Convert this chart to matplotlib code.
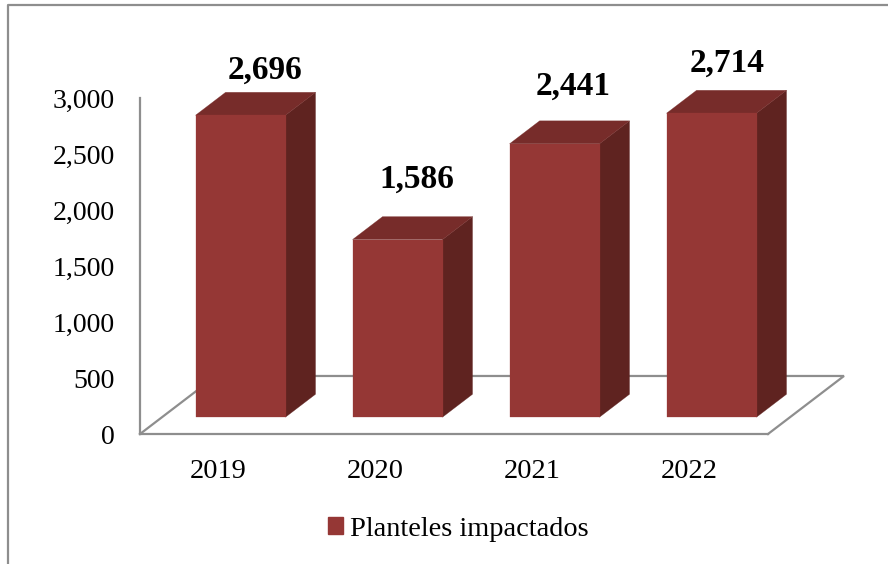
import matplotlib
matplotlib.use('Agg')
import matplotlib.pyplot as plt
from matplotlib.lines import Line2D
from matplotlib.patches import Patch, Polygon

years = ['2019', '2020', '2021', '2022']
planteles = [2696, 1586, 2441, 2714]
yticks = [0, 500, 1000, 1500, 2000, 2500, 3000]
series_name = 'Planteles impactados'

# pixel nudges of the value labels, measured from the top of each bar
label_shift = [(24.5, 45), (19.5, 60), (18.5, 58), (16, 50)]

FRONT = '#953735'
TOP = '#772c2a'
SIDE = '#5f2320'
GREY = '#8e8e8e'
BAR_W = 0.573

# fake 3d: depth 0 is the front of the floor, depth 1 the back
DX = 0.484
DY = 518
NEAR = 0.29
FAR = 0.685


def proj(x, y, d):
    return (x + d * DX, y + d * DY)


plt.rcParams['font.family'] = ['Liberation Serif', 'DejaVu Serif']

fig = plt.figure(figsize=(8.88, 5.64), dpi=100)
ax = fig.add_axes([140 / 888, (564 - 434) / 564, 628 / 888, 336 / 564])
ax.set_xlim(-0.5, 3.5)
ax.set_ylim(0, 3000)
ax.patch.set_visible(False)

for s in ['top', 'right']:
    ax.spines[s].set_visible(False)
for s in ['left', 'bottom']:
    ax.spines[s].set_color(GREY)
    ax.spines[s].set_linewidth(1.6)

# floor
floor = [proj(-0.5, 0, 0), proj(-0.5, 0, 1), proj(3.5, 0, 1), proj(3.5, 0, 0)]
ax.plot([p[0] for p in floor], [p[1] for p in floor], color=GREY, lw=1.6,
        clip_on=False, zorder=1, solid_joinstyle='miter')

for i, v in enumerate(planteles):
    x0 = i - BAR_W / 2
    x1 = i + BAR_W / 2
    side = [proj(x1, 0, NEAR), proj(x1, 0, FAR), proj(x1, v, FAR), proj(x1, v, NEAR)]
    top = [proj(x0, v, NEAR), proj(x0, v, FAR), proj(x1, v, FAR), proj(x1, v, NEAR)]
    front = [proj(x0, 0, NEAR), proj(x1, 0, NEAR), proj(x1, v, NEAR), proj(x0, v, NEAR)]
    for pts, c in [(side, SIDE), (top, TOP), (front, FRONT)]:
        ax.add_patch(Polygon(pts, closed=True, facecolor=c, edgecolor=c, lw=0.2,
                             clip_on=False, zorder=3))
    ax.annotate(format(v, ','), xy=proj(i, v, NEAR), xytext=label_shift[i],
                textcoords='offset pixels', ha='center', va='center',
                fontsize=24, fontweight='bold', color='black', annotation_clip=False)

ax.set_xticks(range(len(years)))
ax.set_xticklabels(years)
ax.set_yticks(yticks)
ax.set_yticklabels([format(t, ',') for t in yticks])
ax.tick_params(axis='x', length=0, pad=18, labelsize=20.5)
ax.tick_params(axis='y', length=0, pad=18, labelsize=20)

handle = Patch(facecolor=FRONT, edgecolor=FRONT, label=series_name)
fig.legend(handles=[handle], loc='center', bbox_to_anchor=(458 / 888, 1 - 529 / 564),
           frameon=False, fontsize=20.4, handlelength=0.53, handleheight=0.53,
           handletextpad=0.25)

# outer frame, only top and left survive in the source image
fig.add_artist(Line2D([8 / 888, 8 / 888, 1], [0, 1 - 5 / 564, 1 - 5 / 564],
                      color=GREY, lw=1.6, transform=fig.transFigure))

fig.savefig('out.png', dpi=100)
